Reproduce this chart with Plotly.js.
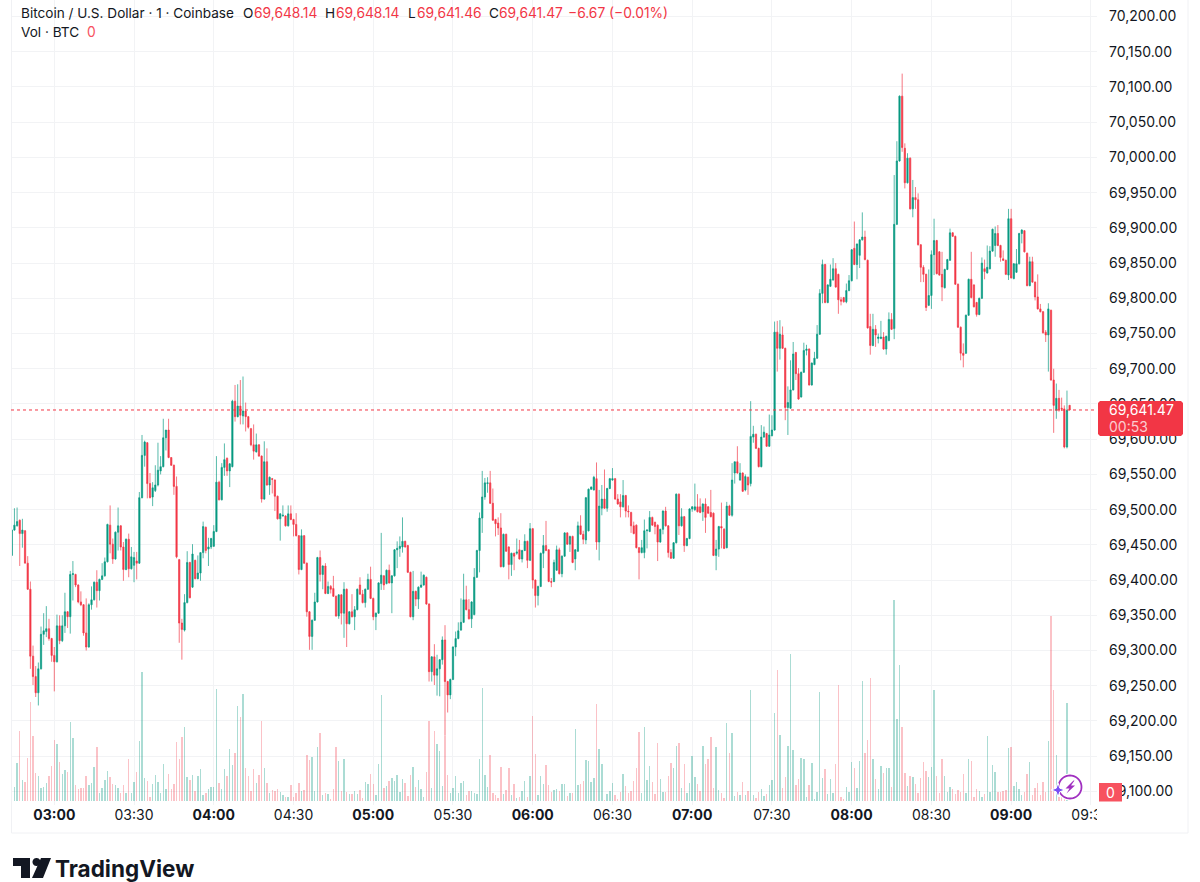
<!DOCTYPE html>
<html><head><meta charset="utf-8">
<script src="https://cdn.plot.ly/plotly-3.0.0.min.js"></script>
<style>html,body{margin:0;padding:0;background:#fff}#c{width:1200px;height:882px}</style></head>
<body><div id="c"></div>
<script>
const opens=[69435,69471,69477,69485,69466,69470,69424,69387,69292,69263,
69240,69274,69323,69327,69331,69317,69293,69284,69335,69314,
69335,69355,69348,69408,69408,69393,69369,69365,69325,69305,
69365,69372,69397,69385,69401,69406,69426,69478,69451,69430,
69468,69477,69447,69415,69458,69416,69421,69427,69424,69517,
69577,69595,69537,69518,69527,69535,69555,69561,69602,69613,
69574,69563,69533,69429,69339,69329,69368,69425,69390,69428,
69402,69410,69439,69475,69444,69447,69448,69469,69539,69514,
69560,69573,69555,69561,69654,69632,69647,69633,69640,69632,
69615,69592,69582,69592,69576,69515,69568,69535,69544,69542,
69519,69487,69491,69491,69477,69494,69486,69479,69463,69415,
69463,69424,69355,69320,69343,69369,69432,69408,69420,69381,
69391,69388,69377,69349,69379,69353,69387,69338,69355,69348,
69358,69393,69380,69368,69387,69401,69374,69348,69353,69395,
69406,69395,69414,69396,69406,69443,69445,69447,69455,69449,
69411,69348,69384,69373,69390,69393,69404,69366,69270,69291,
69265,69274,69287,69315,69256,69237,69259,69305,69317,69329,
69340,69372,69358,69345,69351,69404,69442,69488,69518,69537,
69538,69509,69486,69481,69474,69419,69465,69447,69422,69438,
69438,69443,69430,69442,69455,69428,69473,69400,69378,69391,
69438,69449,69443,69398,69398,69414,69443,69409,69434,69467,
69451,69462,69430,69441,69477,69465,69457,69470,69529,69528,
69544,69454,69502,69515,69502,69530,69542,69544,69515,69511,
69504,69520,69498,69496,69477,69478,69446,69439,69439,69470,
69469,69489,69482,69478,69454,69472,69498,69477,69439,69431,
69453,69522,69477,69490,69449,69459,69501,69500,69504,69504,
69497,69508,69504,69496,69495,69435,69444,69476,69472,69446,
69505,69492,69552,69568,69542,69552,69528,69546,69537,69603,
69607,69587,69561,69603,69608,69590,69605,69613,69752,69729,
69748,69729,69645,69644,69670,69723,69693,69660,69695,69726,
69728,69677,69706,69715,69749,69807,69848,69794,69817,69826,
69842,69834,69798,69801,69795,69811,69825,69871,69848,69861,
69883,69887,69854,69760,69733,69756,69743,69743,69745,69728,
69740,69770,69757,69905,69995,70087,70013,69964,69999,69927,
69943,69940,69876,69844,69834,69790,69804,69862,69882,69866,
69834,69815,69841,69854,69893,69888,69820,69759,69722,69722,
69776,69827,69819,69794,69777,69800,69842,69836,69842,69867,
69875,69892,69875,69856,69854,69833,69913,69828,69837,69849,
69892,69896,69864,69818,69852,69823,69802,69785,69781,69752,
69748,69783,69684,69641,69658,69644,69643,69589,69648.14];
const highs=[69472,69502,69503,69486,69487,69471,69434,69398,69307,69278,
69283,69334,69353,69363,69345,69318,69305,69351,69350,69350,
69382,69356,69413,69427,69409,69394,69384,69366,69374,69367,
69391,69398,69414,69402,69424,69432,69480,69506,69459,69469,
69503,69478,69454,69459,69466,69447,69440,69440,69525,69606,
69598,69596,69552,69539,69563,69595,69576,69629,69613,69629,
69574,69564,69547,69430,69345,69380,69441,69426,69451,69429,
69435,69439,69483,69476,69460,69460,69478,69576,69541,69566,
69594,69574,69566,69656,69677,69678,69684,69689,69652,69633,
69616,69621,69608,69593,69577,69597,69587,69547,69545,69543,
69520,69495,69506,69492,69506,69506,69487,69495,69464,69472,
69464,69425,69356,69344,69382,69433,69442,69421,69424,69398,
69393,69406,69378,69380,69380,69397,69388,69356,69380,69363,
69388,69404,69386,69388,69409,69419,69375,69354,69397,69467,
69407,69415,69422,69407,69444,69455,69462,69489,69456,69450,
69412,69413,69385,69391,69412,69408,69405,69367,69292,69309,
69294,69288,69320,69336,69257,69260,69306,69327,69340,69374,
69409,69392,69373,69370,69417,69443,69496,69555,69545,69546,
69555,69530,69487,69489,69495,69466,69466,69448,69439,69439,
69459,69457,69443,69465,69456,69481,69474,69401,69392,69439,
69464,69484,69444,69403,69429,69449,69446,69435,69468,69468,
69463,69463,69444,69483,69492,69470,69518,69530,69533,69548,
69567,69528,69535,69557,69531,69545,69559,69545,69522,69522,
69542,69521,69506,69497,69483,69479,69447,69457,69486,69472,
69498,69490,69483,69479,69473,69499,69504,69478,69444,69454,
69523,69523,69502,69491,69460,69502,69505,69537,69522,69516,
69509,69516,69505,69528,69496,69457,69477,69510,69474,69511,
69507,69566,69568,69590,69566,69553,69550,69547,69654,69619,
69608,69588,69620,69618,69609,69635,69634,69767,69768,69769,
69760,69730,69675,69712,69738,69724,69701,69696,69737,69734,
69729,69709,69724,69762,69813,69855,69849,69820,69848,69857,
69850,69835,69802,69802,69821,69833,69870,69909,69878,69884,
69922,69896,69855,69778,69778,69762,69750,69768,69752,69747,
69780,69779,69975,70023,70088,70119,70020,70006,70000,69968,
69958,69949,69877,69847,69835,69841,69868,69913,69883,69867,
69866,69842,69856,69899,69894,69889,69821,69760,69736,69777,
69828,69866,69820,69795,69801,69858,69855,69875,69874,69899,
69902,69904,69876,69868,69855,69927,69927,69850,69870,69893,
69898,69897,69865,69859,69859,69824,69834,69792,69782,69755,
69793,69784,69700,69679,69670,69659,69648,69669,69648.14];
const lows=[69435,69470,69476,69420,69446,69424,69386,69274,69251,69234,
69222,69273,69308,69319,69314,69284,69242,69283,69309,69312,
69325,69332,69324,69371,69390,69367,69363,69321,69300,69304,
69358,69371,69361,69371,69400,69405,69425,69438,69423,69429,
69442,69442,69399,69414,69404,69415,69397,69401,69423,69516,
69561,69516,69516,69505,69525,69533,69550,69560,69584,69573,
69562,69521,69431,69311,69287,69327,69367,69374,69389,69401,
69401,69399,69431,69438,69420,69444,69447,69468,69513,69513,
69548,69548,69532,69560,69625,69631,69621,69621,69611,69615,
69590,69571,69581,69575,69510,69514,69534,69521,69523,69498,
69486,69456,69490,69476,69476,69485,69462,69462,69408,69414,
69423,69348,69301,69301,69342,69368,69398,69387,69380,69380,
69381,69376,69348,69345,69337,69318,69305,69337,69347,69329,
69357,69379,69367,69361,69386,69373,69343,69329,69352,69386,
69386,69394,69395,69353,69405,69417,69433,69439,69446,69410,
69347,69343,69363,69359,69389,69392,69365,69256,69256,69251,
69236,69235,69280,69179,69212,69231,69258,69292,69316,69328,
69339,69357,69344,69332,69350,69403,69411,69467,69514,69524,
69508,69484,69462,69464,69418,69418,69440,69401,69406,69414,
69436,69429,69425,69441,69417,69427,69388,69361,69364,69390,
69417,69441,69397,69390,69397,69413,69408,69404,69433,69450,
69440,69424,69414,69440,69464,69451,69451,69469,69528,69527,
69443,69428,69492,69501,69497,69529,69541,69514,69507,69489,
69503,69489,69489,69467,69465,69445,69401,69438,69431,69445,
69468,69477,69465,69427,69453,69465,69476,69432,69430,69430,
69452,69464,69476,69440,69448,69458,69497,69498,69496,69495,
69484,69467,69494,69489,69434,69414,69433,69445,69444,69445,
69491,69490,69537,69551,69541,69525,69526,69521,69533,69595,
69586,69560,69560,69602,69589,69589,69604,69612,69696,69713,
69728,69627,69606,69643,69669,69684,69656,69659,69694,69719,
69676,69676,69705,69714,69748,69793,69793,69793,69816,69825,
69815,69778,69790,69794,69793,69810,69824,69847,69827,69843,
69882,69854,69757,69720,69732,69731,69736,69742,69727,69720,
69739,69755,69742,69904,69994,70008,69956,69963,69926,69915,
69927,69875,69823,69823,69782,69789,69785,69833,69834,69832,
69796,69814,69840,69853,69887,69819,69758,69712,69702,69721,
69775,69800,69787,69774,69776,69799,69827,69835,69841,69866,
69859,69874,69852,69853,69833,69826,69828,69827,69836,69848,
69878,69865,69817,69817,69822,69797,69784,69780,69750,69738,
69696,69683,69609,69629,69639,69640,69587,69587,69641.46];
const closes=[69471,69478,69483,69466,69471,69424,69387,69292,69263,69240,
69274,69323,69328,69331,69317,69293,69284,69335,69314,69335,
69355,69348,69408,69409,69393,69369,69365,69325,69305,69365,
69372,69397,69385,69401,69406,69426,69479,69451,69430,69468,
69477,69447,69415,69458,69416,69433,69432,69424,69517,69577,
69596,69537,69517,69531,69535,69556,69561,69602,69613,69574,
69563,69533,69433,69339,69330,69368,69425,69375,69437,69402,
69410,69439,69476,69442,69447,69459,69469,69539,69514,69560,
69571,69555,69565,69654,69632,69647,69634,69640,69632,69617,
69592,69583,69592,69576,69515,69568,69535,69546,69543,69519,
69487,69494,69492,69477,69494,69486,69479,69463,69415,69463,
69424,69355,69320,69343,69369,69432,69408,69420,69381,69391,
69387,69377,69349,69379,69353,69387,69338,69355,69348,69358,
69387,69380,69368,69387,69401,69374,69348,69353,69396,69407,
69393,69414,69396,69406,69443,69445,69448,69455,69447,69411,
69348,69384,69373,69390,69393,69407,69366,69270,69291,69265,
69274,69287,69315,69256,69237,69259,69305,69317,69328,69340,
69372,69358,69345,69369,69404,69442,69488,69518,69538,69538,
69509,69485,69480,69474,69419,69465,69441,69422,69438,69434,
69440,69430,69442,69455,69428,69473,69400,69378,69391,69438,
69449,69442,69398,69397,69425,69443,69409,69434,69467,69451,
69462,69425,69443,69477,69465,69458,69517,69529,69532,69546,
69454,69505,69515,69502,69530,69544,69544,69515,69508,69504,
69520,69498,69497,69477,69466,69446,69439,69446,69470,69471,
69489,69478,69476,69454,69472,69498,69477,69439,69431,69453,
69522,69477,69490,69449,69459,69501,69504,69504,69497,69496,
69508,69489,69495,69490,69435,69444,69476,69474,69445,69505,
69492,69542,69568,69552,69552,69526,69547,69535,69604,69607,
69587,69561,69603,69610,69590,69606,69613,69752,69729,69749,
69729,69645,69652,69670,69721,69693,69657,69695,69726,69728,
69677,69708,69715,69749,69807,69848,69794,69819,69827,69842,
69816,69798,69796,69795,69811,69825,69869,69848,69877,69883,
69887,69855,69758,69733,69756,69748,69745,69745,69728,69746,
69770,69756,69905,69995,70087,70014,69964,69999,69927,69943,
69940,69876,69844,69834,69787,69804,69862,69882,69835,69833,
69816,69841,69855,69893,69888,69820,69759,69722,69719,69776,
69827,69801,69788,69777,69800,69850,69838,69844,69867,69898,
69892,69875,69858,69854,69834,69913,69829,69849,69849,69892,
69897,69866,69818,69852,69823,69802,69785,69781,69751,69748,
69785,69684,69648,69658,69641,69643,69589,69641,69641.47];
const volumes=[1.8,1.4,3.8,7.0,2.1,1.9,4.3,9.9,6.5,2.8,
2.5,1.3,1.4,1.8,2.5,3.5,6.1,5.7,3.9,2.7,
3.1,2.9,7.9,6.3,1.6,1.2,1.3,1.3,2.5,1.6,
1.8,3.4,5.4,0.8,1.3,2.1,3.0,2.4,1.7,1.6,
1.3,0.8,1.6,0.8,4.2,0.8,1.9,2.9,6.0,12.9,
2.3,2.0,0.4,1.7,2.6,1.9,0.8,3.7,1.2,2.7,
1.2,1.7,5.9,4.2,6.4,7.4,2.4,2.1,2.6,1.0,
2.5,3.2,0.6,0.8,1.2,1.4,1.4,11.2,1.8,1.2,
3.2,2.5,5.2,3.6,4.8,9.5,8.4,10.7,3.3,2.5,
1.0,3.2,1.8,2.6,8.0,3.3,1.8,0.8,1.1,1.0,
1.2,0.9,0.6,0.4,0.4,1.6,0.4,0.8,1.8,1.0,
1.1,4.6,4.1,4.4,1.0,5.4,6.8,0.6,0.8,0.7,
0.2,1.2,5.4,4.0,1.0,4.2,0.9,0.7,0.7,1.0,
0.7,1.1,0.3,1.9,1.7,2.7,1.7,0.6,3.7,10.6,
1.3,1.5,2.0,2.3,2.0,2.6,0.9,2.2,1.8,0.5,
2.6,3.4,1.4,2.1,1.2,0.4,2.9,8.0,1.3,7.0,
5.7,5.0,1.5,6.5,2.6,0.8,1.3,2.5,0.8,1.8,
2.0,0.6,1.0,1.0,0.8,0.7,4.2,11.3,2.6,1.4,
4.6,0.8,0.6,0.3,3.4,0.7,1.1,3.3,0.6,1.7,
0.3,0.4,1.0,2.0,0.4,2.5,8.5,4.7,0.6,2.5,
1.7,3.6,1.6,0.9,1.1,1.2,1.0,1.7,1.7,0.5,
0.8,0.8,7.2,1.6,1.7,2.0,4.1,4.0,1.9,2.3,
9.7,5.2,3.7,0.1,0.7,1.0,1.8,0.6,0.2,0.9,
2.7,1.5,0.8,1.0,2.0,3.3,6.9,0.8,7.4,2.1,
3.5,1.9,0.7,5.8,2.2,0.9,0.9,2.5,3.8,3.3,
5.5,5.8,1.3,3.7,0.8,1.8,4.5,2.4,1.7,1.0,
5.5,3.7,4.2,6.4,1.3,5.4,1.1,0.8,0.3,7.8,
4.8,6.8,0.5,0.9,0.6,1.9,0.6,1.0,11.1,0.6,
0.3,0.9,1.2,0.5,0.7,1.6,2.1,8.8,13.1,6.6,
1.3,2.4,5.5,14.7,5.1,1.6,2.2,4.3,4.2,0.4,
1.6,3.8,0.2,0.9,10.9,2.3,3.2,0.7,2.2,0.8,
3.7,11.6,0.4,0.2,1.4,0.9,3.9,3.3,1.3,4.0,
12.0,4.8,6.1,12.3,4.2,2.2,1.2,3.5,2.8,3.3,
3.3,1.4,20.1,8.2,13.6,7.4,2.8,1.5,2.5,2.4,
1.7,0.8,2.3,3.9,3.0,2.4,3.4,11.1,2.5,0.8,
4.2,2.5,0.9,1.4,1.2,0.7,1.1,0.9,2.7,0.8,
4.2,4.0,0.4,1.2,1.0,0.4,0.7,6.5,0.9,3.6,
2.9,0.9,0.9,1.0,1.1,5.3,5.4,1.5,1.9,1.2,
0.6,0.9,2.7,3.9,0.6,1.3,1.8,0.6,1.9,0.9,
6.0,18.5,11.1,4.6,0.4,0.4,0.4,9.8,0];
const tickTimes=["03:00","03:30","04:00","04:30","05:00","05:30","06:00","06:30","07:00","07:30","08:00","08:30","09:00","09:30"];
const priceLabel=["69,641.47","00:53"];
const headerItems=[
 ["Bitcoin / U.S. Dollar · 1 · Coinbase",20,"#131722"],
 ["O",242,"#131722"],["69,648.14",253,"#f23645"],
 ["H",324,"#131722"],["69,648.14",335,"#f23645"],
 ["L",407,"#131722"],["69,641.46",416,"#f23645"],
 ["C",488,"#131722"],["69,641.47",498,"#f23645"],
 ["−6.67 (−0.01%)",567,"#f23645"]];

const DAY="2024-04-08 ";
const start=new Date(Date.UTC(2024,3,8,2,44));
const iso=d=>d.toISOString().slice(0,19).replace("T"," ");
const times=closes.map((_,i)=>iso(new Date(start.getTime()+i*60000)));
const volColors=closes.map((c,i)=>c>=opens[i]?"rgba(8,153,129,.34)":"rgba(242,54,69,.30)");

// pixel helpers for chrome (labels, frame, logo); plot spans x 11..1097, y 0..805
const PL=11,PW=1086,PH=805;
const X=p=>(p-PL)/PW, Y=p=>1-p/PH;
const poly=pts=>"M"+pts.map(p=>X(p[0])+","+Y(p[1])).join(" L")+" Z";
const circ=(cx,cy,r)=>poly(Array.from({length:48},(_,k)=>[cx+r*Math.cos(k*Math.PI/24),cy+r*Math.sin(k*Math.PI/24)]));
const pshape=(path,fill,lineCol,w)=>({type:"path",xref:"paper",yref:"paper",path,fillcolor:fill,line:{color:lineCol||"rgba(0,0,0,0)",width:w||0},layer:"above"});
const rect=(x0,y0,x1,y1,fill)=>({type:"rect",xref:"paper",yref:"paper",x0:X(x0),x1:X(x1),y0:Y(y0),y1:Y(y1),fillcolor:fill,line:{width:0},layer:"above"});
const hline=(x0,y0,x1,y1)=>({type:"line",xref:"paper",yref:"paper",x0:X(x0),x1:X(x1),y0:Y(y0),y1:Y(y1),line:{color:"#f0f1f4",width:1},layer:"above"});
const label=(t,x,y,col,size,anchor,extra)=>Object.assign({text:t,xref:"paper",yref:"paper",x:X(x),y:Y(y),xanchor:anchor||"left",yanchor:"middle",showarrow:false,borderpad:0,font:{family:"Inter, 'Noto Sans', sans-serif",size:size||13,color:col}},extra||{});

const shapes=[
 rect(1097,806,1187.5,832,"#ffffff"),
 hline(11.5,0,11.5,833),hline(11.5,833,1188,833),hline(1188,0,1188,833),
 {type:"line",xref:"paper",yref:"y2",x0:0,x1:1,y0:closes[closes.length-1],y1:closes[closes.length-1],line:{color:"#f23645",width:1,dash:"dot"},layer:"above"},
 pshape(`M${X(1100)},${Y(401)} L${X(1181)},${Y(401)} L${X(1183)},${Y(403)} L${X(1183)},${Y(434)} L${X(1181)},${Y(436)} L${X(1100)},${Y(436)} L${X(1098)},${Y(434)} L${X(1098)},${Y(403)} Z`,"#f23645"),
 rect(1099,783,1122,801.5,"#f7525f"),
 pshape(circ(1070,787,13.5),"#ffffff"),
 pshape(circ(1070,787,11.5),"#ffffff","#a02fc0",1.8),
 pshape(poly([[1073.5,780.5],[1065.5,788.5],[1069.5,788.5],[1066.5,793.5],[1075,785.5],[1071,785.5],[1074.5,780.5]]),"#a02fc0"),
 pshape(poly([[1058,783],[1059.8,788.2],[1065,790],[1059.8,791.8],[1058,797],[1056.2,791.8],[1051,790],[1056.2,788.2]]),"#7a4df5","#ffffff",1),
 // TradingView mark
 pshape(poly([[13,858],[30,858],[30,878],[21,878],[21,866],[13,866]]),"#131722"),
 pshape(circ(36.5,862,4),"#131722"),
 pshape(poly([[41,858],[51,858],[43,878],[32,878]]),"#131722")
];
const annotations=headerItems.map((h,i)=>label(h[0],h[1],13,h[2],(i===0||i%2===1)&&i<9?13.6:13.8));
annotations.push(label("Vol · BTC",20,32,"#131722",13.6));
annotations.push(label("0",86,32,"#f7525f",13.8));
annotations.push(label(priceLabel[0],1108,410,"#ffffff",14));
annotations.push(label(priceLabel[1],1108,426,"rgba(255,255,255,.75)",14));
annotations.push(label("0",1110.5,792.5,"#ffffff",14,"center"));
annotations.push(label("<b>TradingView</b>",54,868,"#131722",22.5));

const traces=[
 {type:"bar",x:times,y:volumes,yaxis:"y",marker:{color:volColors,line:{width:0}},width:32000,hoverinfo:"skip",showlegend:false},
 {type:"candlestick",x:times,open:opens,high:highs,low:lows,close:closes,yaxis:"y2",whiskerwidth:0,
  increasing:{line:{color:"rgba(8,153,129,.68)",width:1},fillcolor:"#089981"},
  decreasing:{line:{color:"rgba(242,54,69,.68)",width:1},fillcolor:"#f23645"},hoverinfo:"skip",showlegend:false}
];
const grid="#f2f3f5";
const layout={
 width:1200,height:882,margin:{l:PL,r:1200-PL-PW,t:0,b:882-PH,pad:0},
 paper_bgcolor:"#fff",plot_bgcolor:"#fff",showlegend:false,bargap:0,dragmode:false,
 font:{family:"Inter, 'Noto Sans', sans-serif",color:"#131722"},
 xaxis:{type:"date",range:["2024-04-08 02:43:42.6","2024-04-08 09:32:18"],rangeslider:{visible:false},
  tickmode:"array",tickvals:tickTimes.map(t=>DAY+t),
  ticktext:tickTimes.map(t=>t.endsWith(":00")?"<b>"+t+"</b>":t),
  showgrid:true,gridcolor:grid,gridwidth:1,zeroline:false,showline:false,ticks:"",tickfont:{size:14,color:"#131722"},fixedrange:true},
 yaxis:{visible:false,range:[-0.4,80.1],showgrid:false,zeroline:false,fixedrange:true},
 yaxis2:{overlaying:"y",side:"right",anchor:"x",range:[69080.7,70223.5],dtick:50,tick0:69100,tickformat:",.2f",
  showgrid:true,gridcolor:grid,gridwidth:1,zeroline:false,showline:false,ticks:"",ticklabelstandoff:11,
  tickfont:{size:14,color:"#131722"},fixedrange:true},
 shapes,annotations
};
Plotly.newPlot("c",traces,layout,{displayModeBar:false,staticPlot:true});
</script></body></html>
